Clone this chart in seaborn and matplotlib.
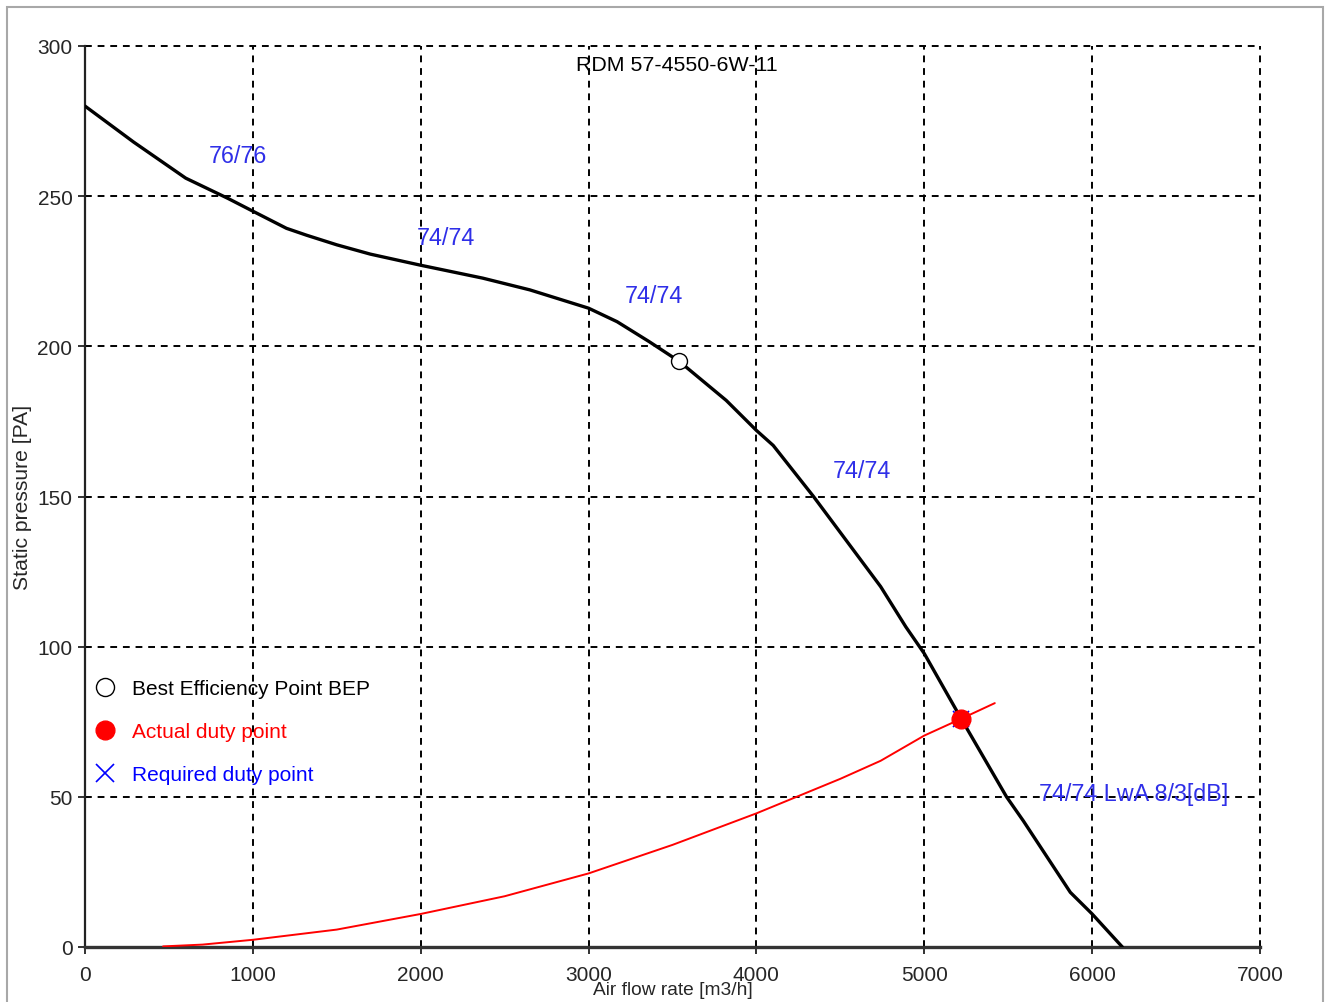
import matplotlib
matplotlib.use("Agg")
import matplotlib.pyplot as plt
from matplotlib.lines import Line2D
from matplotlib.patches import Rectangle
import seaborn as sns
import pandas as pd

# fan curve (black)
fan_flow = [0, 290, 600, 850, 1000, 1200, 1320, 1500, 1700, 2000, 2370, 2650, 3000,
            3170, 3360, 3540, 3820, 4000, 4100, 4340, 4540, 4740, 4890, 5000,
            5220, 5490, 5590, 5870, 6000, 6180]
fan_pressure = [280, 268, 256, 249.3, 245, 239.3, 237, 233.8, 230.7, 227, 222.7, 218.8, 212.7,
                208.2, 201.6, 195, 182, 172, 167, 150, 135, 120, 106.6, 97.7,
                76, 50, 42, 18.2, 11, 0]

# system curve (red)
sys_flow = [465, 700, 1000, 1500, 2000, 2500, 3000, 3500, 4000, 4500, 4740, 5000, 5220, 5420]
sys_pressure = [0.2, 0.8, 2.4, 5.8, 11, 16.9, 24.5, 34, 44.5, 56, 62, 70.4, 76, 81.2]

bep = (3540, 195)
duty = (5220, 76)

sound_labels = ["76/76", "74/74", "74/74", "74/74", "74/74 LwA 8/3[dB]"]
sound_x = [911, 2151, 3390, 4629, 6249]
sound_y = [263.4, 236.4, 216.8, 158.5, 51]

title = "RDM 57-4550-6W-11"

sns.set_style("white")
plt.rcParams["font.family"] = ["Liberation Sans", "DejaVu Sans"]

fig = plt.figure(figsize=(13.25, 10.03), dpi=100)
ax = fig.add_axes([85 / 1325, 1 - 948 / 1003, 1175 / 1325, 901 / 1003])

fan = pd.DataFrame({"flow": fan_flow, "pressure": fan_pressure})
sysc = pd.DataFrame({"flow": sys_flow, "pressure": sys_pressure})

sns.lineplot(data=sysc, x="flow", y="pressure", color="red", lw=1.4,
             sort=False, estimator=None, ax=ax, zorder=3)
sns.lineplot(data=fan, x="flow", y="pressure", color="black", lw=2.4,
             sort=False, estimator=None, ax=ax, zorder=4)

ax.plot([bep[0]], [bep[1]], marker="o", ms=11.5, mfc="white", mec="black", mew=1.0,
        ls="none", zorder=5)
ax.plot([duty[0]], [duty[1]], marker="x", ms=12, color="blue", mew=1.2, ls="none", zorder=5)
ax.plot([duty[0]], [duty[1]], marker="o", ms=13.5, color="red", ls="none", zorder=6)

for lab, x, y in zip(sound_labels, sound_x, sound_y):
    ax.text(x, y, lab, color="#2f2fe8", fontsize=16.8, ha="center", va="center", zorder=7)

ax.text(3527, 294, title, color="black", fontsize=15.4, ha="center", va="center")

ax.set_xlim(0, 7000)
ax.set_ylim(0, 300)
ax.set_xticks(range(0, 7001, 1000))
ax.set_yticks(range(0, 301, 50))
ax.grid(True, color="black", lw=1.4, ls=(0, (3.5, 3)))
ax.set_axisbelow(True)
for gl in ax.get_xgridlines() + ax.get_ygridlines():
    gl.set_clip_on(False)
for s in ["top", "right"]:
    ax.spines[s].set_visible(False)
ax.spines["left"].set_color("#222222")
ax.spines["left"].set_linewidth(1.6)
ax.spines["bottom"].set_color("#333333")
ax.spines["bottom"].set_linewidth(2.4)
ax.tick_params(axis="both", which="both", direction="out", length=5, width=1.3,
               color="#222222", labelsize=15, pad=4, bottom=True, left=True)
ax.tick_params(axis="x", pad=8)

ax.set_xlabel("Air flow rate [m3/h]", fontsize=13.8, labelpad=-2)
ax.set_ylabel("Static pressure [PA]", fontsize=15.2, labelpad=4)

handles = [
    Line2D([], [], marker="o", ls="none", ms=13, mfc="white", mec="black", mew=1.0),
    Line2D([], [], marker="o", ls="none", ms=13.5, color="red"),
    Line2D([], [], marker="x", ls="none", ms=13, color="blue", mew=1.2),
]
ax.legend(handles, ["Best Efficiency Point BEP", "Actual duty point", "Required duty point"],
          loc="upper left", bbox_to_anchor=(0.008, 0.297), frameon=False,
          fontsize=15, labelcolor=["black", "red", "blue"], handlelength=1.0,
          handletextpad=0.8, labelspacing=1.15, borderpad=0, borderaxespad=0)

fig.patches.append(Rectangle((7 / 1325, -0.01), 1316 / 1325, 1 - 8 / 1003 + 0.01,
                             transform=fig.transFigure, fill=False,
                             edgecolor="#a8a8a8", lw=1.5))

fig.savefig("out.png", dpi=100)
